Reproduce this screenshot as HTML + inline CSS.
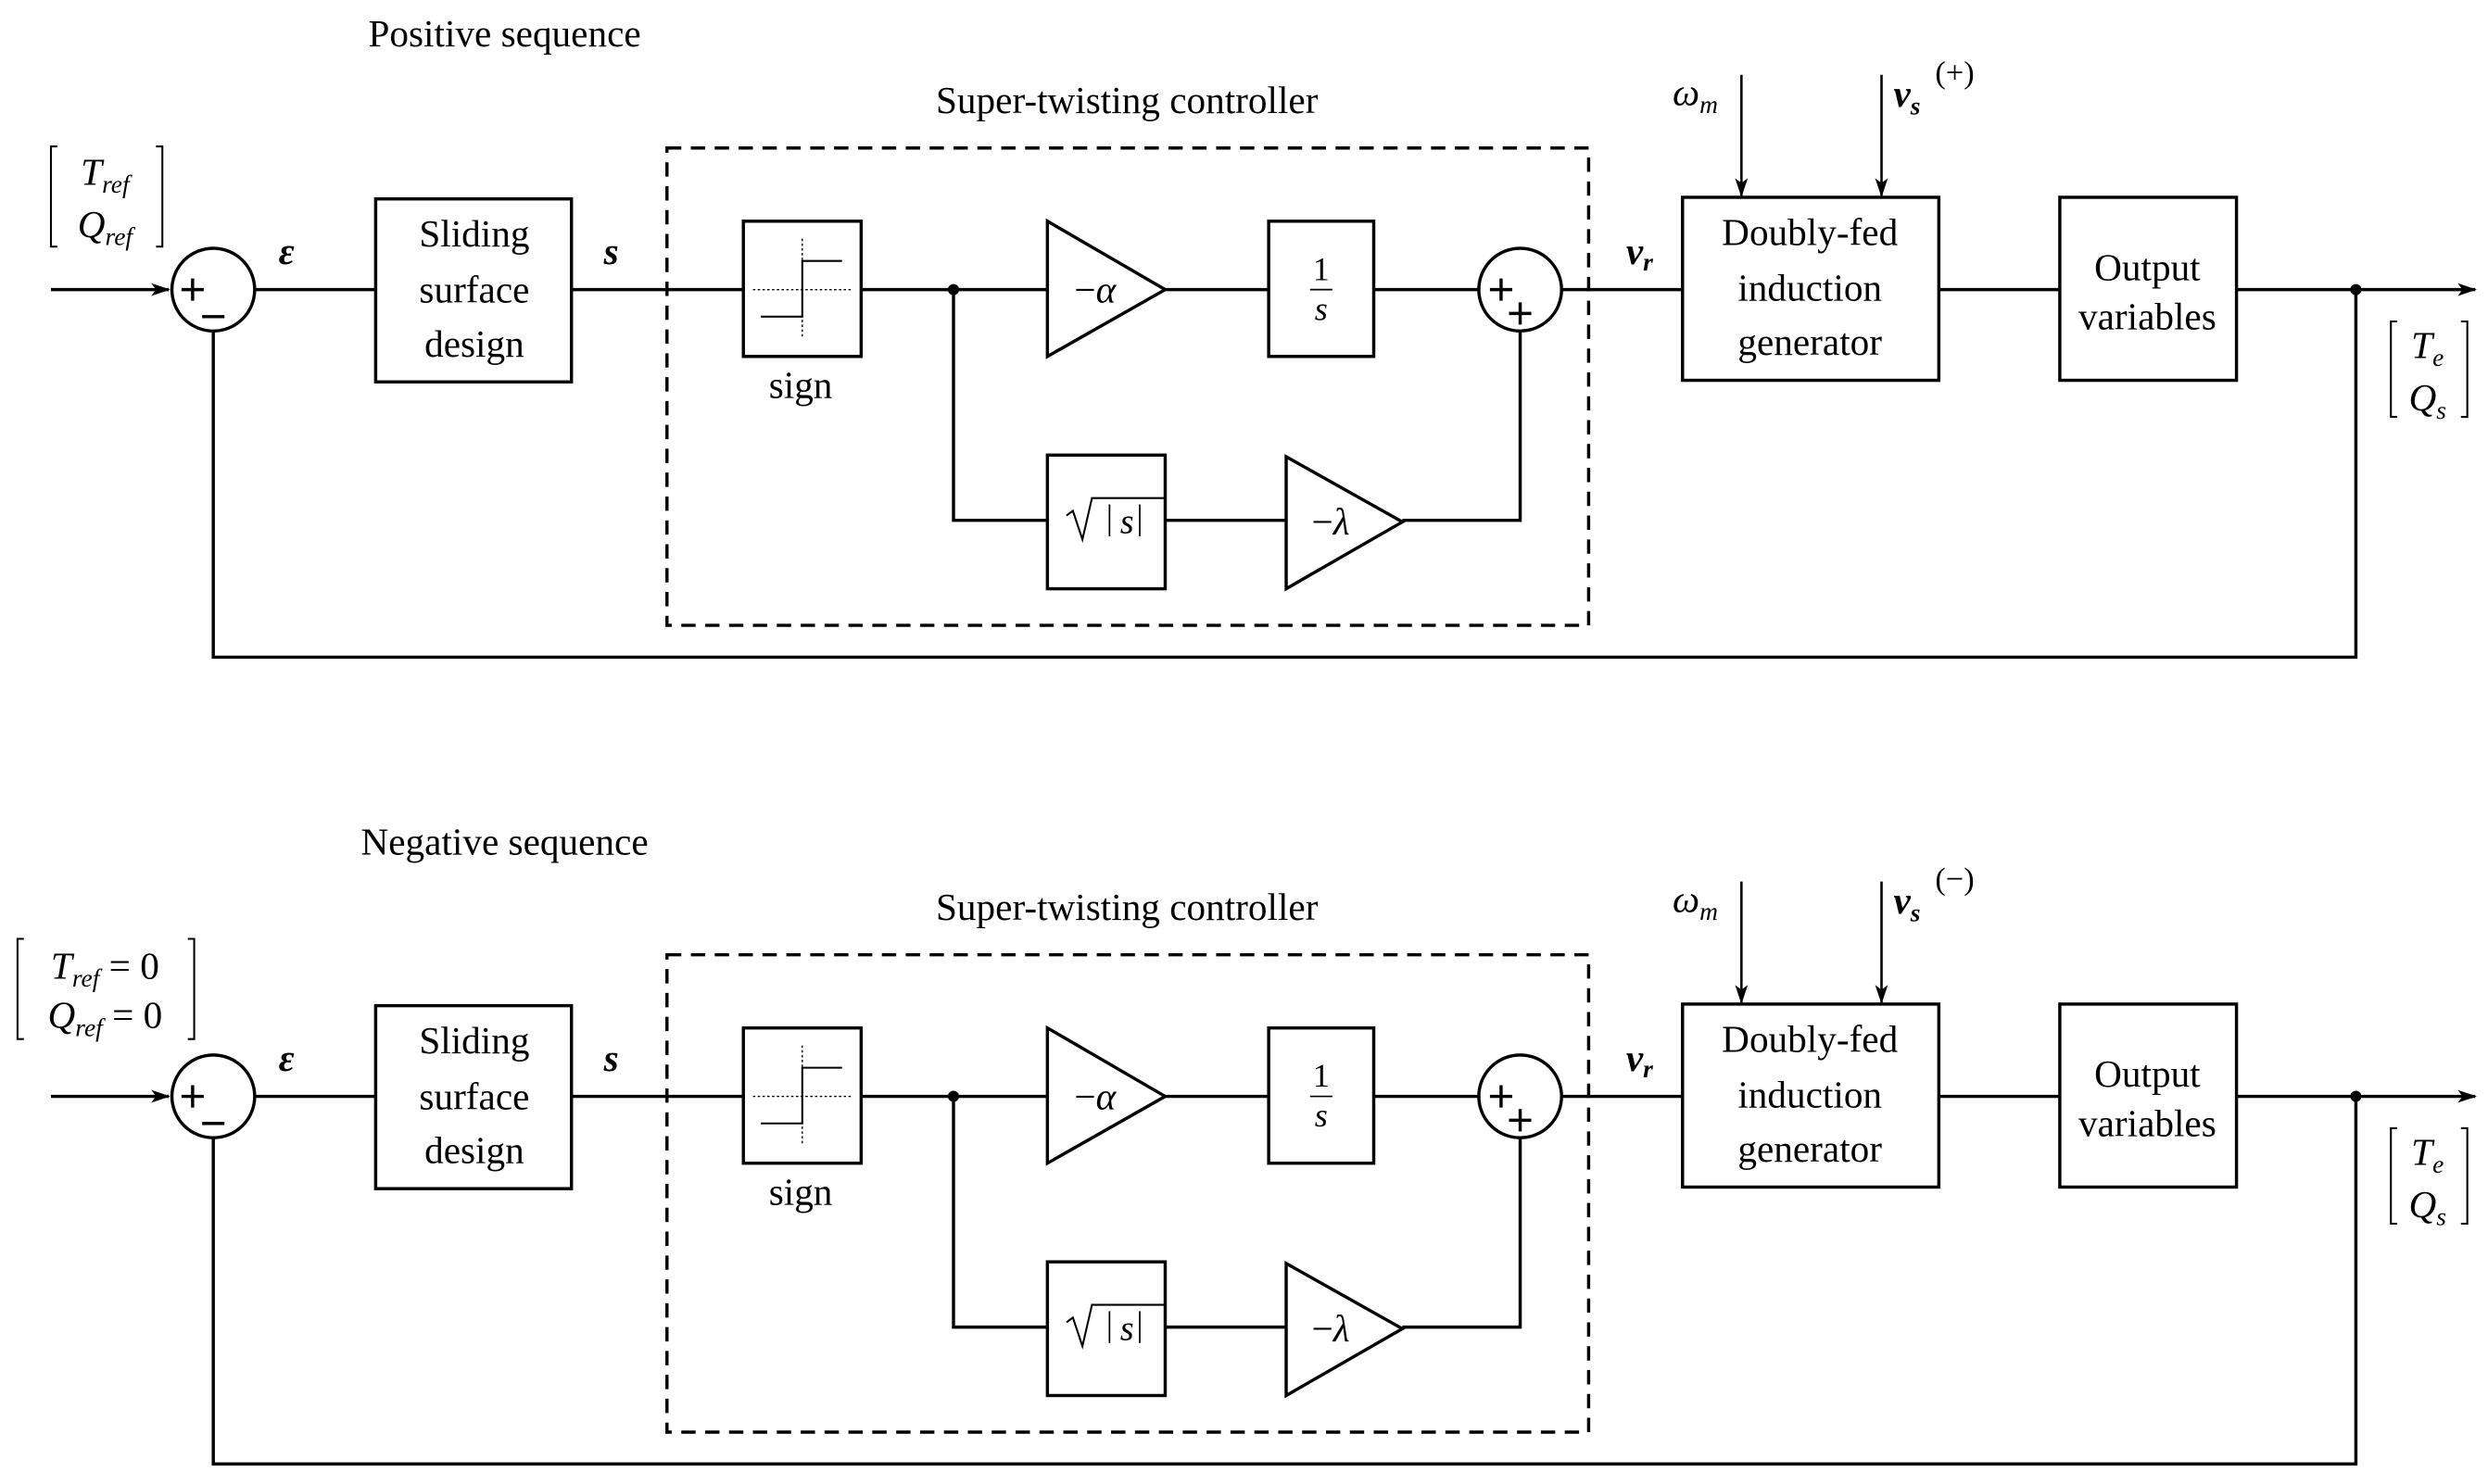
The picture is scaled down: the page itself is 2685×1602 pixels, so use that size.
<!DOCTYPE html>
<html><head><meta charset="utf-8"><style>
html,body{margin:0;padding:0;background:#fff;}
svg{display:block;}
text{font-family:"Liberation Serif","DejaVu Serif",serif;fill:#000;font-size:24px;text-anchor:middle;}
.m{font-style:italic;}
.b{font-weight:bold;font-style:italic;}
.sub{font-size:16px;}
.ln{stroke:#000;stroke-width:2;fill:none;}
</style></head><body>
<svg width="2685" height="1602" viewBox="0 0 1563 932.6" preserveAspectRatio="none" xmlns="http://www.w3.org/2000/svg">
<defs>
<marker id="ar" markerWidth="12" markerHeight="10" refX="11" refY="5" orient="auto" markerUnits="userSpaceOnUse">
<path d="M0,1 L12,5 L0,9 L3,5 Z" fill="#000"/></marker>
</defs>

<!-- ===== TOP ===== -->
<g>
<g class="ln">
<line x1="32" y1="182" x2="106" y2="182" marker-end="url(#ar)"/>
<circle cx="134" cy="182" r="26"/>
<line x1="160" y1="182" x2="236" y2="182"/>
<rect x="236" y="125" width="123" height="115"/>
<line x1="359" y1="182" x2="467" y2="182"/>
<rect x="419" y="93" width="579" height="300" stroke-dasharray="9,6"/>
<rect x="467" y="139" width="74" height="85"/>
<line x1="504" y1="150" x2="504" y2="212" stroke-width="0.8" stroke-dasharray="1.5,1.5"/>
<line x1="473" y1="182" x2="535" y2="182" stroke-width="0.8" stroke-dasharray="1.5,1.5"/>
<polyline points="478,199 504,199 504,164 529,164" stroke-width="1.2"/>
<line x1="541" y1="182" x2="658" y2="182"/>
<polygon points="658,139 658,224 732,182"/>
<line x1="732" y1="182" x2="797" y2="182"/>
<rect x="797" y="139" width="66" height="85"/>
<line x1="863" y1="182" x2="930" y2="182"/>
<circle cx="955" cy="182" r="26"/>
<line x1="981" y1="182" x2="1057" y2="182"/>
<rect x="1057" y="124" width="161" height="115"/>
<line x1="1094" y1="47" x2="1094" y2="123" stroke-width="1.5" marker-end="url(#ar)"/>
<line x1="1182" y1="47" x2="1182" y2="123" stroke-width="1.5" marker-end="url(#ar)"/>
<line x1="1218" y1="182" x2="1294" y2="182"/>
<rect x="1294" y="124" width="111" height="115"/>
<line x1="1405" y1="182" x2="1555" y2="182" marker-end="url(#ar)"/>
<polyline points="1480,182 1480,413 134,413 134,208"/>
<polyline points="599,182 599,327 658,327"/>
<rect x="658" y="286" width="74" height="84"/>
<line x1="732" y1="327" x2="808" y2="327"/>
<polygon points="808,287 808,370 881,328"/>
<polyline points="881,327 955,327 955,208"/>
<line x1="823" y1="182" x2="837" y2="182" stroke-width="1"/>
<path d="M1506,202 h-4 v60 h4 M1546,202 h4 v60 h-4" stroke-width="1.2"/>
<path d="M670,324 l4,-3 l6,18 l6,-26 h46" stroke-width="1.2"/>
<line x1="697" y1="317" x2="697" y2="337" stroke-width="1"/>
<line x1="716" y1="317" x2="716" y2="337" stroke-width="1"/>
<path d="M114,182 h14 M121,175 v14 M127,199 h14"/>
<path d="M936,182 h14 M943,175 v14 M948,197 h14 M955,190 v14"/>
<path d="M36,92 h-4 v63 h4 M98,92 h4 v63 h-4" stroke-width="1.2"/>
</g>
<circle cx="599" cy="182" r="3.5" fill="#000"/>
<circle cx="1480" cy="182" r="3.5" fill="#000"/>
<text x="180" y="166" class="b">ε</text>
<text x="384" y="166" class="b">s</text>
<text x="1030" y="166" class="b">v<tspan class="sub" dy="4">r</tspan></text>
<text x="298" y="155">Sliding</text>
<text x="298" y="190">surface</text>
<text x="298" y="224">design</text>
<text x="503" y="250">sign</text>
<text x="688" y="190">−<tspan class="m">α</tspan></text>
<text x="830" y="176" style="font-size:21px">1</text>
<text x="830" y="201" class="m" style="font-size:21px">s</text>
<text x="708" y="335" class="m" style="font-size:22px">s</text>
<text x="836" y="336">−<tspan class="m">λ</tspan></text>
<text x="708" y="71">Super-twisting controller</text>
<text x="1137" y="154">Doubly-fed</text>
<text x="1137" y="189">induction</text>
<text x="1137" y="223">generator</text>
<text x="1349" y="176">Output</text>
<text x="1349" y="207">variables</text>
<text x="1065" y="66" class="m">ω<tspan class="sub" dy="5">m</tspan></text>
<text x="1525" y="225" class="m">T<tspan class="sub" dy="5">e</tspan></text>
<text x="1525" y="258" class="m">Q<tspan class="sub" dy="5">s</tspan></text>
<text x="1198" y="67" class="b">v<tspan class="sub" dy="5">s</tspan></text>
<text x="1228" y="52" style="font-size:20px">(+)</text>
<text x="317" y="29">Positive sequence</text>
<text x="66" y="116" class="m">T<tspan class="sub" dy="5">ref</tspan></text>
<text x="66" y="149" class="m">Q<tspan class="sub" dy="5">ref</tspan></text>
</g>

<!-- ===== BOTTOM ===== -->
<g transform="translate(0,507)">
<g class="ln">
<line x1="32" y1="182" x2="106" y2="182" marker-end="url(#ar)"/>
<circle cx="134" cy="182" r="26"/>
<line x1="160" y1="182" x2="236" y2="182"/>
<rect x="236" y="125" width="123" height="115"/>
<line x1="359" y1="182" x2="467" y2="182"/>
<rect x="419" y="93" width="579" height="300" stroke-dasharray="9,6"/>
<rect x="467" y="139" width="74" height="85"/>
<line x1="504" y1="150" x2="504" y2="212" stroke-width="0.8" stroke-dasharray="1.5,1.5"/>
<line x1="473" y1="182" x2="535" y2="182" stroke-width="0.8" stroke-dasharray="1.5,1.5"/>
<polyline points="478,199 504,199 504,164 529,164" stroke-width="1.2"/>
<line x1="541" y1="182" x2="658" y2="182"/>
<polygon points="658,139 658,224 732,182"/>
<line x1="732" y1="182" x2="797" y2="182"/>
<rect x="797" y="139" width="66" height="85"/>
<line x1="863" y1="182" x2="930" y2="182"/>
<circle cx="955" cy="182" r="26"/>
<line x1="981" y1="182" x2="1057" y2="182"/>
<rect x="1057" y="124" width="161" height="115"/>
<line x1="1094" y1="47" x2="1094" y2="123" stroke-width="1.5" marker-end="url(#ar)"/>
<line x1="1182" y1="47" x2="1182" y2="123" stroke-width="1.5" marker-end="url(#ar)"/>
<line x1="1218" y1="182" x2="1294" y2="182"/>
<rect x="1294" y="124" width="111" height="115"/>
<line x1="1405" y1="182" x2="1555" y2="182" marker-end="url(#ar)"/>
<polyline points="1480,182 1480,413 134,413 134,208"/>
<polyline points="599,182 599,327 658,327"/>
<rect x="658" y="286" width="74" height="84"/>
<line x1="732" y1="327" x2="808" y2="327"/>
<polygon points="808,287 808,370 881,328"/>
<polyline points="881,327 955,327 955,208"/>
<line x1="823" y1="182" x2="837" y2="182" stroke-width="1"/>
<path d="M1506,202 h-4 v60 h4 M1546,202 h4 v60 h-4" stroke-width="1.2"/>
<path d="M670,324 l4,-3 l6,18 l6,-26 h46" stroke-width="1.2"/>
<line x1="697" y1="317" x2="697" y2="337" stroke-width="1"/>
<line x1="716" y1="317" x2="716" y2="337" stroke-width="1"/>
<path d="M114,182 h14 M121,175 v14 M127,199 h14"/>
<path d="M936,182 h14 M943,175 v14 M948,197 h14 M955,190 v14"/>
<path d="M15,83 h-4 v63 h4 M118,83 h4 v63 h-4" stroke-width="1.2"/>
</g>
<circle cx="599" cy="182" r="3.5" fill="#000"/>
<circle cx="1480" cy="182" r="3.5" fill="#000"/>
<text x="180" y="166" class="b">ε</text>
<text x="384" y="166" class="b">s</text>
<text x="1030" y="166" class="b">v<tspan class="sub" dy="4">r</tspan></text>
<text x="298" y="155">Sliding</text>
<text x="298" y="190">surface</text>
<text x="298" y="224">design</text>
<text x="503" y="250">sign</text>
<text x="688" y="190">−<tspan class="m">α</tspan></text>
<text x="830" y="176" style="font-size:21px">1</text>
<text x="830" y="201" class="m" style="font-size:21px">s</text>
<text x="708" y="335" class="m" style="font-size:22px">s</text>
<text x="836" y="336">−<tspan class="m">λ</tspan></text>
<text x="708" y="71">Super-twisting controller</text>
<text x="1137" y="154">Doubly-fed</text>
<text x="1137" y="189">induction</text>
<text x="1137" y="223">generator</text>
<text x="1349" y="176">Output</text>
<text x="1349" y="207">variables</text>
<text x="1065" y="66" class="m">ω<tspan class="sub" dy="5">m</tspan></text>
<text x="1525" y="225" class="m">T<tspan class="sub" dy="5">e</tspan></text>
<text x="1525" y="258" class="m">Q<tspan class="sub" dy="5">s</tspan></text>
<text x="1198" y="67" class="b">v<tspan class="sub" dy="5">s</tspan></text>
<text x="1228" y="52" style="font-size:20px">(−)</text>
<text x="317" y="30">Negative sequence</text>
<text x="66" y="108"><tspan class="m">T</tspan><tspan class="m sub" dy="5">ref</tspan><tspan dy="-5"> = 0</tspan></text>
<text x="66" y="139"><tspan class="m">Q</tspan><tspan class="m sub" dy="5">ref</tspan><tspan dy="-5"> = 0</tspan></text>
</g>
</svg>
</body></html>
